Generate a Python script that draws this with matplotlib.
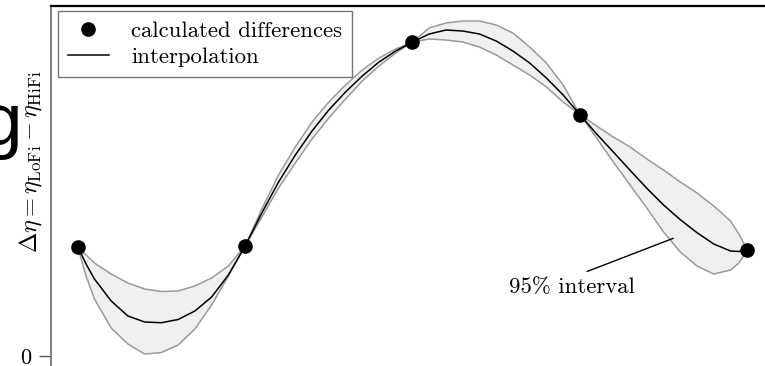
import numpy as np
import matplotlib
matplotlib.use("Agg")
import matplotlib.pyplot as plt

# LaTeX-like look
plt.rcParams['font.family'] = 'serif'
plt.rcParams['font.serif'] = ['cmr10']
plt.rcParams['mathtext.fontset'] = 'cm'
plt.rcParams['axes.unicode_minus'] = False

# calculated differences (the five sample points)
x_pts = [0, 1, 2, 3, 4]
y_pts = [1.093, 1.10, 3.14, 2.415, 1.06]

# interpolation + 95% band (denser near the steep ends)
x_grid = [0.0, 0.05, 0.1, 0.2, 0.3, 0.4, 0.5, 0.6, 0.7, 0.8, 0.9,
          1.0, 1.1, 1.2, 1.3, 1.4, 1.5, 1.6, 1.7, 1.8, 1.9,
          2.0, 2.1, 2.2, 2.3, 2.4, 2.5, 2.6, 2.7, 2.8, 2.9,
          3.0, 3.1, 3.2, 3.3, 3.4, 3.5, 3.6, 3.7, 3.8, 3.9, 3.95,
          4.0]
mean = [1.093, 0.92, 0.77, 0.55, 0.40, 0.34, 0.333, 0.365, 0.45, 0.59, 0.81,
        1.10, 1.43, 1.74, 2.01, 2.25, 2.46, 2.64, 2.80, 2.94, 3.05,
        3.14, 3.22, 3.26, 3.25, 3.22, 3.15, 3.05, 2.93, 2.78, 2.61,
        2.415, 2.22, 2.04, 1.857, 1.677, 1.51, 1.363, 1.233, 1.12, 1.05, 1.045,
        1.06]
upper = [1.093, 1.01, 0.93, 0.82, 0.73, 0.67, 0.645, 0.65, 0.70, 0.78, 0.90,
         1.10, 1.47, 1.81, 2.09, 2.34, 2.54, 2.71, 2.86, 2.98, 3.07,
         3.14, 3.28, 3.33, 3.35, 3.35, 3.31, 3.23, 3.09, 2.93, 2.71,
         2.415, 2.30, 2.19, 2.09, 1.97, 1.86, 1.74, 1.63, 1.50, 1.35, 1.22,
         1.06]
lower = [1.093, 0.80, 0.57, 0.28, 0.12, 0.02, 0.035, 0.11, 0.27, 0.51, 0.80,
         1.10, 1.39, 1.68, 1.93, 2.17, 2.38, 2.57, 2.75, 2.90, 3.03,
         3.14, 3.17, 3.16, 3.14, 3.09, 3.01, 2.91, 2.81, 2.69, 2.54,
         2.415, 2.18, 1.94, 1.71, 1.48, 1.24, 1.04, 0.90, 0.82, 0.86, 0.93,
         1.06]

fig = plt.figure(figsize=(7.65, 3.66), dpi=100)
ax = fig.add_axes([51 / 765, 0, 1 - 51 / 765, 1 - 6 / 366])

ax.fill_between(x_grid, lower, upper, color='#f0f0f0', lw=0)
ax.plot(x_grid, upper, color='#9a9a9a', lw=1.1)
ax.plot(x_grid, lower, color='#9a9a9a', lw=1.1)
line, = ax.plot(x_grid, mean, color='black', lw=1.1)
pts, = ax.plot(x_pts, y_pts, 'o', color='black', ms=9.5, zorder=5)

ax.set_xlim(-0.1595, 4.106)
ax.set_ylim(-0.10, 3.50)

ax.set_xticks([])
ax.set_yticks([0])
ax.set_yticklabels(['0'])
ax.tick_params(axis='y', length=9, width=1, color='#555555', labelsize=16, pad=5)

for s in ['right', 'bottom']:
    ax.spines[s].set_visible(False)
ax.spines['left'].set_color('#777777')
ax.spines['left'].set_linewidth(1.3)
ax.spines['top'].set_color('black')
ax.spines['top'].set_linewidth(1.6)

ax.set_ylabel(r'$\Delta\eta = \eta_{\mathrm{LoFi}} - \eta_{\mathrm{HiFi}}$', fontsize=17.5)
ax.yaxis.set_label_coords(-0.010, 0.568)

leg = ax.legend([pts, line], ['calculated differences', 'interpolation'],
                loc='upper left', bbox_to_anchor=(0.0098, 0.986), borderaxespad=0,
                fontsize=16.4, fancybox=False, edgecolor='#777777', framealpha=1,
                handlelength=1.8, handletextpad=1.0, labelspacing=0.3,
                borderpad=0.42, markerscale=1.0)
leg.get_frame().set_linewidth(1.0)

ax.annotate('95% interval', xy=(3.558, 1.177), xytext=(2.954, 0.69),
            fontsize=16.4, ha='center', va='center',
            arrowprops=dict(arrowstyle='-', color='black', lw=1,
                            relpos=(0.5, 1.0), shrinkA=6, shrinkB=0))

# stray letter cut from the neighbouring panel
fig.text(23 / 765, 1 - 145 / 366, 'g', family='Liberation Sans', fontsize=54,
         ha='right', va='baseline')

fig.savefig('out.png', dpi=100)
